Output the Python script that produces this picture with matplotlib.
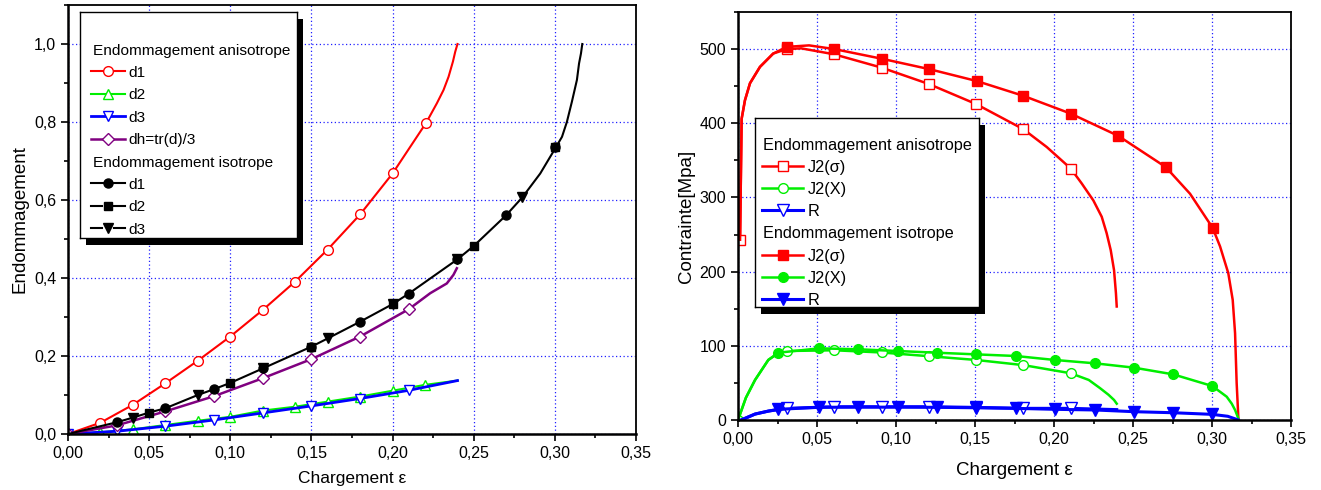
import matplotlib
matplotlib.use("Agg")
import matplotlib.pyplot as plt
from matplotlib.ticker import MultipleLocator, FuncFormatter
from matplotlib.patches import Rectangle

plt.rcParams["font.family"] = ["Liberation Sans", "DejaVu Sans"]

W, H = 1321, 490

# ---------- left panel : damage vs loading ----------
# anisotropic damage
eps_d1 = [0, 0.02, 0.04, 0.06, 0.08, 0.10, 0.12, 0.14, 0.16, 0.18, 0.20, 0.2207,
          0.2273, 0.2314, 0.2345, 0.2372, 0.2386, 0.240]
d1_an = [0, 0.029, 0.075, 0.130, 0.188, 0.250, 0.318, 0.391, 0.473, 0.563, 0.668, 0.798,
         0.848, 0.882, 0.916, 0.955, 0.980, 1.0]
eps_d2 = [0, 0.02, 0.04, 0.06, 0.08, 0.10, 0.12, 0.14, 0.16, 0.18, 0.20, 0.22, 0.24]
d2_an = [0, 0.004, 0.012, 0.023, 0.034, 0.044, 0.060, 0.070, 0.083, 0.096, 0.111, 0.126, 0.137]
eps_d3 = [0, 0.03, 0.06, 0.09, 0.12, 0.15, 0.18, 0.21, 0.24]
d3_an = [0, 0.007, 0.020, 0.036, 0.054, 0.072, 0.091, 0.112, 0.137]
eps_dh = [0, 0.03, 0.06, 0.09, 0.12, 0.15, 0.18, 0.21, 0.2232, 0.2334, 0.2375, 0.2396]
dh_an = [0, 0.022, 0.058, 0.097, 0.143, 0.192, 0.250, 0.320, 0.361, 0.386, 0.408, 0.425]

# isotropic damage (d1 = d2 = d3), same curve, different markers
eps_iso = [0, 0.03, 0.04, 0.05, 0.06, 0.08, 0.09, 0.10, 0.12, 0.15, 0.16, 0.18, 0.20, 0.21,
           0.24, 0.25, 0.27, 0.28, 0.291, 0.3009, 0.3044, 0.3074, 0.3105, 0.3136, 0.3149, 0.3161, 0.3169]
d_iso = [0, 0.030, 0.042, 0.055, 0.066, 0.100, 0.115, 0.131, 0.168, 0.224, 0.245, 0.288, 0.333, 0.360,
         0.448, 0.482, 0.561, 0.607, 0.668, 0.737, 0.762, 0.800, 0.852, 0.908, 0.950, 0.976, 1.0]
eps_iso_d1 = [0.03, 0.06, 0.09, 0.12, 0.15, 0.18, 0.21, 0.24, 0.27, 0.30]
d1_iso = [0.030, 0.066, 0.115, 0.168, 0.224, 0.288, 0.360, 0.448, 0.561, 0.737]
eps_iso_d2 = [0.05, 0.10, 0.15, 0.20, 0.25, 0.30]
d2_iso = [0.055, 0.131, 0.224, 0.333, 0.482, 0.737]
eps_iso_d3 = [0.04, 0.08, 0.12, 0.16, 0.20, 0.24, 0.28]
d3_iso = [0.042, 0.100, 0.168, 0.245, 0.333, 0.448, 0.607]

# ---------- right panel : stresses vs loading ----------
eps_sig_an = [0.0013, 0.0023, 0.0044, 0.0076, 0.0139, 0.0223, 0.0308, 0.040, 0.0608, 0.0909, 0.1207,
              0.1506, 0.1806, 0.1954, 0.2106, 0.2175, 0.2249, 0.2302, 0.2333, 0.2359, 0.2380, 0.2392, 0.2397]
sig_an = [243, 406, 431, 454, 476, 494, 500, 501, 493, 475, 453,
          426, 392, 368, 339, 319, 296, 274, 252, 229, 202, 171, 153]
eps_sig_iso = [0.0013, 0.0023, 0.0044, 0.0076, 0.0139, 0.0223, 0.031, 0.045, 0.061, 0.091, 0.121, 0.151,
               0.1806, 0.2106, 0.2407, 0.2707, 0.2861, 0.3004, 0.3051, 0.3103, 0.3131, 0.3146, 0.3156, 0.3167]
sig_iso = [243, 406, 431, 454, 476, 494, 503, 505, 500, 487, 473, 457,
           437, 413, 383, 341, 305, 259, 234, 198, 162, 117, 50, 2]

eps_x_an = [0, 0.005, 0.0108, 0.0192, 0.0255, 0.0308, 0.061, 0.0909, 0.1209, 0.1504, 0.1806, 0.2106,
            0.222, 0.2291, 0.2345, 0.2380, 0.2397]
x_an = [0, 30, 54, 81, 90, 93, 94, 91, 86, 81, 74, 63, 54, 43, 34, 27, 22]
eps_x_iso = [0, 0.005, 0.0108, 0.0192, 0.0255, 0.0513, 0.0762, 0.101, 0.1258, 0.1504, 0.1757, 0.2006,
             0.226, 0.2508, 0.2755, 0.3002, 0.3093, 0.3125, 0.3146, 0.3167]
x_iso = [0, 30, 54, 81, 90.7, 96.6, 95.3, 93, 90.7, 88.5, 86.3, 80.9,
         76.4, 70.5, 61.5, 45.8, 31.4, 22, 13.5, 2]

eps_r_an = [0.002, 0.0108, 0.0192, 0.0308, 0.061, 0.0909, 0.1209, 0.1504, 0.1806, 0.2106, 0.2397]
r_an = [0, 8, 12, 15.7, 17.9, 17.9, 17.9, 17, 15.7, 15.7, 14]
eps_r_iso = [0.002, 0.0108, 0.0192, 0.0255, 0.0513, 0.0762, 0.101, 0.1258, 0.1504, 0.1757, 0.2006,
             0.226, 0.2508, 0.2755, 0.3002, 0.3100, 0.3167]
r_iso = [0, 8, 12, 14.4, 17.1, 17.3, 17.3, 17.1, 16.5, 15.7, 14.4, 13.5, 11.2, 9.8, 7.6, 5, 0]

RED, GREEN, BLUE, PURPLE = "#ff0000", "#00ee00", "#0000ff", "#800080"


def px_rect(x0, y0, x1, y1):
    return [x0 / W, 1 - y1 / H, (x1 - x0) / W, (y1 - y0) / H]


def style_axes(ax, ymaj, ymin, xfmt, yfmt):
    ax.set_xlim(0, 0.35)
    ax.xaxis.set_major_locator(MultipleLocator(0.05))
    ax.xaxis.set_minor_locator(MultipleLocator(0.025))
    ax.yaxis.set_major_locator(MultipleLocator(ymaj))
    ax.yaxis.set_minor_locator(MultipleLocator(ymin))
    ax.xaxis.set_major_formatter(FuncFormatter(lambda v, p: xfmt.format(v).replace(".", ",")))
    ax.yaxis.set_major_formatter(FuncFormatter(lambda v, p: yfmt.format(v).replace(".", ",")))
    ax.tick_params(which="both", direction="out", top=False, right=False, width=1.2, labelsize=11.5)
    ax.tick_params(which="major", length=5)
    ax.tick_params(which="minor", length=3)
    ax.grid(True, which="major", color="#2020ff", linestyle=(0, (1, 2)), linewidth=0.9)
    for s in ax.spines.values():
        s.set_linewidth(1.3)
    ax.spines["left"].set_linewidth(1.8)
    ax.spines["bottom"].set_linewidth(1.8)


def draw_key(fig, box, rows, first, step, x_line, x_mark, x_text, x_head, fs):
    x0, y0, x1, y1 = box
    fig.add_artist(Rectangle(((x0 + 6) / W, 1 - (y1 + 7) / H), (x1 - x0) / W, (y1 - y0) / H,
                             transform=fig.transFigure, facecolor="black", edgecolor="none", zorder=4))
    key = fig.add_axes(px_rect(x0, y0, x1, y1), zorder=5)
    key.set_xlim(x0, x1)
    key.set_ylim(y1, y0)
    key.set_xticks([])
    key.set_yticks([])
    for s in key.spines.values():
        s.set_linewidth(1.0)
    for i, (label, st) in enumerate(rows):
        y = first + i * step
        if st is None:
            key.text(x_head, y, label, fontsize=fs, va="center_baseline", ha="left")
            continue
        if st.get("gap"):
            key.plot([x_line[0], x_mark - 6], [y, y], color=st["color"], lw=st["lw"])
            key.plot([x_mark + 6, x_line[1]], [y, y], color=st["color"], lw=st["lw"])
        else:
            key.plot(x_line, [y, y], color=st["color"], lw=st["lw"])
        key.plot([x_mark], [y], marker=st["marker"], ms=st["ms"], color=st["color"],
                 mfc=st["mfc"], mec=st["color"], mew=1.0, linestyle="none")
        key.text(x_text, y, label, fontsize=fs, va="center_baseline", ha="left")


fig = plt.figure(figsize=(W / 100, H / 100), dpi=100)

# ---------------- left panel ----------------
ax1 = fig.add_axes(px_rect(68, 5, 636, 434))
st_d1 = dict(color=RED, marker="o", ms=7, mfc="white", lw=1.5)
st_d2 = dict(color=GREEN, marker="^", ms=7, mfc="white", lw=1.5)
st_d3 = dict(color=BLUE, marker="v", ms=7, mfc="white", lw=2.0)
st_dh = dict(color=PURPLE, marker="D", ms=6, mfc="white", lw=1.8)
st_i1 = dict(color="black", marker="o", ms=6.5, mfc="black", lw=1.5)
st_i2 = dict(color="black", marker="s", ms=6, mfc="black", lw=1.5, gap=True)
st_i3 = dict(color="black", marker="v", ms=7, mfc="black", lw=1.5, gap=True)

for ex, ey, st, n in [(eps_d1, d1_an, st_d1, 12), (eps_d2, d2_an, st_d2, 12),
                      (eps_d3, d3_an, st_d3, 8), (eps_dh, dh_an, st_dh, 8)]:
    ax1.plot(ex, ey, color=st["color"], lw=st["lw"], marker=st["marker"], ms=st["ms"],
             mfc=st["mfc"], mec=st["color"], mew=1.0, markevery=list(range(n)))
ax1.plot(eps_iso, d_iso, color="black", lw=1.5)
for ex, ey, st in [(eps_iso_d1, d1_iso, st_i1), (eps_iso_d2, d2_iso, st_i2), (eps_iso_d3, d3_iso, st_i3)]:
    ax1.plot(ex, ey, linestyle="none", marker=st["marker"], ms=st["ms"], color="black")

ax1.set_ylim(0, 1.1)
style_axes(ax1, 0.2, 0.1, "{:.2f}", "{:.1f}")
ax1.set_xlabel("Chargement ε", fontsize=12.5, labelpad=7)
ax1.set_ylabel("Endommagement", fontsize=13.5, labelpad=4)

draw_key(fig, (80, 12, 297, 238),
         [("Endommagement anisotrope", None), ("d1", st_d1), ("d2", st_d2), ("d3", st_d3),
          ("dh=tr(d)/3", st_dh), ("Endommagement isotrope", None),
          ("d1", st_i1), ("d2", st_i2), ("d3", st_i3)],
         49, 22.4, (91, 125), 108, 128, 93, 11.1)

# ---------------- right panel ----------------
ax2 = fig.add_axes(px_rect(738, 12, 1291, 420))
st_sa = dict(color=RED, marker="s", ms=6.5, mfc="white", lw=1.8)
st_xa = dict(color=GREEN, marker="o", ms=7, mfc="white", lw=1.8)
st_ra = dict(color=BLUE, marker="v", ms=8, mfc="white", lw=2.2)
st_si = dict(color=RED, marker="s", ms=6.5, mfc=RED, lw=1.8)
st_xi = dict(color=GREEN, marker="o", ms=7, mfc=GREEN, lw=1.8)
st_ri = dict(color=BLUE, marker="v", ms=8, mfc=BLUE, lw=2.2)

series = [
    (eps_sig_an, sig_an, st_sa, [0, 6, 8, 9, 10, 11, 12, 14]),
    (eps_x_an, x_an, st_xa, [0, 5, 6, 7, 8, 9, 10, 11]),
    (eps_r_an, r_an, st_ra, [3, 4, 5, 6, 7, 8, 9]),
    (eps_sig_iso, sig_iso, st_si, [6, 8, 9, 10, 11, 12, 13, 14, 15, 17]),
    (eps_x_iso, x_iso, st_xi, list(range(4, 16))),
    (eps_r_iso, r_iso, st_ri, list(range(3, 15))),
]
for ex, ey, st, marks in series:
    ax2.plot(ex, ey, color=st["color"], lw=st["lw"], marker=st["marker"], ms=st["ms"],
             mfc=st["mfc"], mec=st["color"], mew=1.0, markevery=marks)

ax2.set_ylim(0, 550)
style_axes(ax2, 100, 50, "{:.2f}", "{:.0f}")
ax2.set_xlabel("Chargement ε", fontsize=13.5, labelpad=11)
ax2.set_ylabel("Contrainte[Mpa]", fontsize=13.5, labelpad=3)

draw_key(fig, (755, 118, 979, 307),
         [("Endommagement anisotrope", None), ("J2(σ)", st_sa), ("J2(X)", st_xa), ("R", st_ra),
          ("Endommagement isotrope", None), ("J2(σ)", st_si), ("J2(X)", st_xi), ("R", st_ri)],
         144, 22.1, (762, 803), 783, 808, 763, 11.7)

fig.savefig("out.png", dpi=100)
